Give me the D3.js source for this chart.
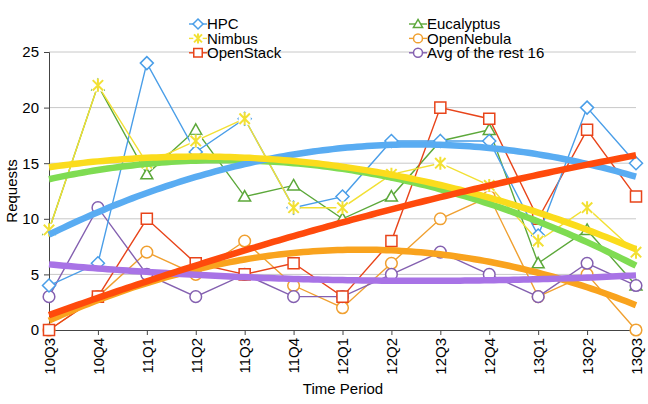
<!DOCTYPE html>
<html><head><meta charset="utf-8">
<script src="https://cdn.jsdelivr.net/npm/d3@7"></script>
<style>body{margin:0;background:#fff}svg{display:block;font-family:"Liberation Sans",Arial,sans-serif}</style>
</head><body><svg id="c" width="648" height="404"></svg>
<script>
const categories = ["10Q3","10Q4","11Q1","11Q2","11Q3","11Q4","12Q1","12Q2","12Q3","12Q4","13Q1","13Q2","13Q3"];
const hpc        = [4, 6, 24, 16, 19, 11, 12, 17, 17, 17, 8.5, 20, 15];
const nimbus     = [9, 22, 15, 17, 19, 11, 11, 14, 15, 13, 8, 11, 7];
const openstack  = [0, 3, 10, 6, 5, 6, 3, 8, 20, 19, 10, 18, 12];
const eucalyptus = [9, 22, 14, 18, 12, 13, 10, 12, 17, 18, 6, 9, 4];
const opennebula = [0, 3, 7, 5, 8, 4, 2, 6, 10, 12, 3, 5, 0];
const avgRest    = [3, 11, 5, 3, 5, 3, 3, 5, 7, 5, 3, 6, 4];
const yTicks = [0, 5, 10, 15, 20, 25];

const series = [
  {name:"HPC", values:hpc, color:"#4a9ee8", trend:"#59acf2", marker:"diamond"},
  {name:"Nimbus", values:nimbus, color:"#f2e034", trend:"#fbdc1c", marker:"star"},
  {name:"OpenStack", values:openstack, color:"#e8441a", trend:"#ff4a0c", marker:"square"},
  {name:"Eucalyptus", values:eucalyptus, color:"#5ca83a", trend:"#7fdc52", marker:"triangle"},
  {name:"OpenNebula", values:opennebula, color:"#f0a030", trend:"#f9a31e", marker:"circle"},
  {name:"Avg of the rest 16", values:avgRest, color:"#8460b0", trend:"#a873e6", marker:"circle"}
];
const drawOrder = ["Eucalyptus","OpenNebula","Avg of the rest 16","OpenStack","HPC","Nimbus"];

const svg = d3.select("#c");
const x = d3.scalePoint().domain(categories).range([49, 636]);
const y = d3.scaleLinear().domain([0, 25]).range([330, 52]);

// gridlines
svg.append("g").selectAll("line").data(yTicks.filter(d=>d>0)).join("line")
  .attr("x1", 49).attr("x2", 636).attr("y1", d=>y(d)).attr("y2", d=>y(d))
  .attr("stroke", "#c8c8c8").attr("stroke-width", 1);

// axes
const yAxis = svg.append("g").attr("transform","translate(49,0)")
  .call(d3.axisLeft(y).tickValues(yTicks).tickSize(5).tickPadding(5));
yAxis.selectAll("text").attr("font-size", 15).attr("fill","#000").style("font-family","'Liberation Sans',Arial,sans-serif");
yAxis.selectAll("line,path").attr("stroke","#444");
const xAxis = svg.append("g").attr("transform","translate(0,330)")
  .call(d3.axisBottom(x).tickSize(5).tickSizeOuter(0));
xAxis.selectAll("line,path").attr("stroke","#444");
xAxis.selectAll("text").attr("font-size", 15).attr("fill","#000")
  .style("font-family","'Liberation Sans',Arial,sans-serif")
  .attr("transform","rotate(-90)").attr("text-anchor","end")
  .attr("x", -8).attr("y", 0).attr("dy","0.35em");

// titles
svg.append("text").attr("x", 343).attr("y", 394).attr("text-anchor","middle")
  .attr("font-size", 15).text("Time Period");
svg.append("text").attr("transform","translate(17,191) rotate(-90)").attr("text-anchor","middle")
  .attr("font-size", 15).text("Requests");

function markerPath(type, s) {
  const h = s/2;
  switch(type){
    case "diamond": return `M0,${-h}L${h},0L0,${h}L${-h},0Z`;
    case "square": return `M${-h*0.85},${-h*0.85}H${h*0.85}V${h*0.85}H${-h*0.85}Z`;
    case "triangle": return `M0,${-h*0.92}L${h*0.92},${h*0.7}L${-h*0.92},${h*0.7}Z`;
    case "star": return `M${-h*0.8},${-h*0.8}L${h*0.8},${h*0.8}M${h*0.8},${-h*0.8}L${-h*0.8},${h*0.8}M0,${-h}V${h}`;
    default: return d3.symbol(d3.symbolCircle, Math.PI*h*h*0.8)();
  }
}
function drawMarker(g, type, cx, cy, s, color) {
  const m = g.append("g").attr("transform", `translate(${cx},${cy})`);
  if (type === "star") {
    const b = s*0.47;
    m.append("rect").attr("x",-b).attr("y",-b).attr("width",2*b).attr("height",2*b).attr("fill","#fff");
  }
  m.append("path").attr("d", markerPath(type, s))
    .attr("fill", type==="star" ? "none" : "#fff")
    .attr("stroke", color).attr("stroke-width", type==="star"?2:1.5);
}

const line = d3.line().defined(d=>d!=null).x((d,i)=>x(categories[i])).y(d=>y(d));

// data lines + markers
drawOrder.forEach(name => {
  const s = series.find(d=>d.name===name);
  const g = svg.append("g");
  g.append("path").datum(s.values).attr("d", line).attr("fill","none")
    .attr("stroke", s.color).attr("stroke-width", 1.4);
  s.values.forEach((v,i) => { if (v!=null) drawMarker(g, s.marker, x(categories[i]), y(v), 13, s.color); });
});

// quadratic least-squares trend
function quadFit(vals){
  let S=[0,0,0,0,0], T=[0,0,0];
  vals.forEach((v,i)=>{ if(v==null) return; for(let k=0;k<5;k++) S[k]+=Math.pow(i,k); for(let k=0;k<3;k++) T[k]+=v*Math.pow(i,k); });
  const A=[[S[0],S[1],S[2],T[0]],[S[1],S[2],S[3],T[1]],[S[2],S[3],S[4],T[2]]];
  for(let c=0;c<3;c++){ for(let r=c+1;r<3;r++){ const f=A[r][c]/A[c][c]; for(let k=c;k<4;k++) A[r][k]-=f*A[c][k]; } }
  const b=[0,0,0];
  for(let r=2;r>=0;r--){ let s=A[r][3]; for(let k=r+1;k<3;k++) s-=A[r][k]*b[k]; b[r]=s/A[r][r]; }
  return t=>b[0]+b[1]*t+b[2]*t*t;
}
const trendOrder = ["Eucalyptus","OpenNebula","Avg of the rest 16","HPC","Nimbus","OpenStack"];
const n = categories.length;
const samples = d3.range(0, (n-1)*10+1).map(k=>k/10);
const xi = d3.scaleLinear().domain([0, n-1]).range([49, 636]);
trendOrder.forEach(name => {
  const s = series.find(d=>d.name===name);
  const f = quadFit(s.values);
  svg.append("path").datum(samples)
    .attr("d", d3.line().x(t=>xi(t)).y(t=>y(f(t))))
    .attr("fill","none").attr("stroke", s.trend).attr("stroke-width", 6.5)
    .attr("stroke-linecap","butt");
});

// legend
const leg = svg.append("g");
series.forEach((s,i) => {
  const col = Math.floor(i/3), row = i%3;
  const lx = col===0 ? 198 : 418, ly = 24 + row*14.4;
  leg.append("line").attr("x1", lx-9).attr("x2", lx+9).attr("y1", ly).attr("y2", ly)
    .attr("stroke", s.color).attr("stroke-width", 1.4);
  drawMarker(leg, s.marker, lx, ly, 10, s.color);
  leg.append("text").attr("x", lx+9).attr("y", ly).attr("dy","0.36em")
    .attr("font-size", 15).text(s.name);
});
</script></body></html>
